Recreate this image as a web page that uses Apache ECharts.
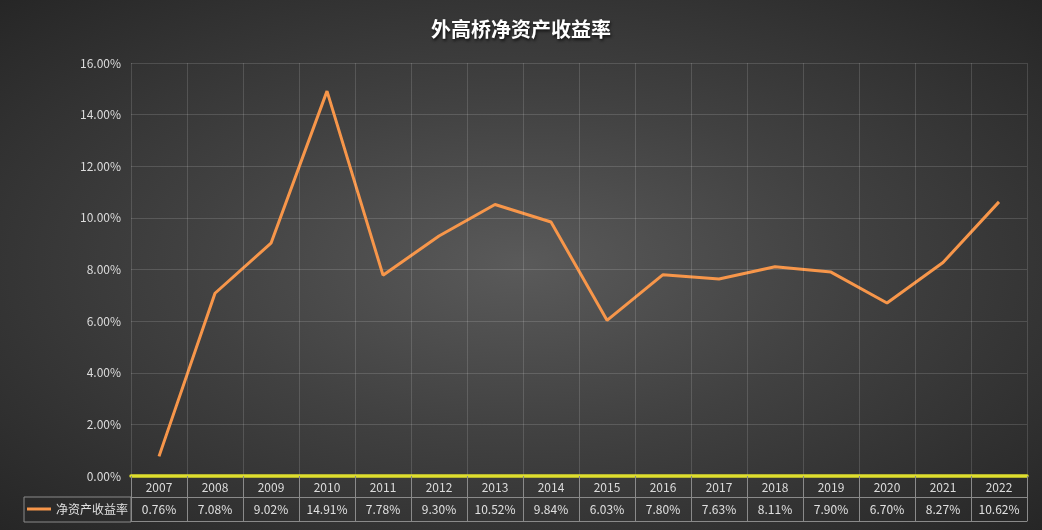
<!DOCTYPE html>
<html>
<head>
<meta charset="utf-8">
<script src="https://cdn.jsdelivr.net/npm/echarts@6/dist/echarts.min.js"></script>
<style>
  html, body { margin: 0; padding: 0; }
  #chart {
    width: 1042px; height: 530px;
    background: radial-gradient(ellipse at 50% 50%, #5a5a5a 0%, #414141 45%, #262626 100%);
  }
</style>
</head>
<body>
<div id="chart"></div>
<script>
// 年份
const years = ["2007", "2008", "2009", "2010", "2011", "2012", "2013", "2014",
  "2015", "2016", "2017", "2018", "2019", "2020", "2021", "2022"];
// 净资产收益率（%）
const roe = [0.76, 7.08, 9.02, 14.91, 7.78, 9.30, 10.52, 9.84,
  6.03, 7.80, 7.63, 8.11, 7.90, 6.70, 8.27, 10.62];
const seriesName = "净资产收益率";

const font = "'Noto Sans CJK SC', 'Noto Sans', sans-serif";
const tableLine = "#8a8a8a";

const chart = echarts.init(document.getElementById("chart"));

chart.setOption({
  backgroundColor: "transparent",
  textStyle: { fontFamily: font },
  title: {
    text: "外高桥净资产收益率",
    left: "center",
    top: 14,
    textStyle: {
      color: "#ffffff",
      fontSize: 20,
      fontWeight: "bold",
      fontFamily: font,
      textShadowColor: "rgba(0,0,0,0.7)",
      textShadowBlur: 3,
      textShadowOffsetX: 1,
      textShadowOffsetY: 2,
    },
  },
  // 图例放在数据表左侧格子里
  legend: {
    data: [seriesName],
    left: 24,
    top: 497,
    padding: [6, 3, 7, 3],
    borderColor: tableLine,
    borderWidth: 1,
    icon: "rect",
    itemWidth: 24,
    itemHeight: 3,
    textStyle: { color: "#e0e0e0", fontSize: 12, fontFamily: font },
    selectedMode: false,
  },
  grid: { left: 131, right: 15, top: 63, bottom: 54 },
  xAxis: [
    {
      type: "category",
      data: years,
      boundaryGap: true,
      axisLine: { show: true, lineStyle: { color: "#dede2e", width: 3.5 } },
      axisTick: { show: true, interval: 0, length: 45, lineStyle: { color: tableLine } },
      axisLabel: { interval: 0, color: "#dcdcdc", fontSize: 12, margin: 5 },
      splitLine: { show: true, interval: 0, lineStyle: { color: "rgba(255,255,255,0.14)" } },
      z: 5,
    },
    {
      // 数据表第二行：数值
      type: "category",
      data: years,
      position: "bottom",
      offset: 21,
      axisLine: { show: true, lineStyle: { color: tableLine, width: 1 } },
      axisTick: { show: false },
      axisLabel: {
        interval: 0,
        color: "#e0e0e0",
        fontSize: 12,
        margin: 6,
        formatter: (v, i) => roe[i].toFixed(2) + "%",
      },
      splitLine: { show: false },
    },
    {
      // 数据表底边
      type: "category",
      data: years,
      position: "bottom",
      offset: 45,
      axisLine: { show: true, lineStyle: { color: tableLine, width: 1 } },
      axisTick: { show: false },
      axisLabel: { show: false },
      splitLine: { show: false },
    },
  ],
  yAxis: {
    type: "value",
    min: 0,
    max: 16,
    interval: 2,
    axisLine: { show: false },
    axisTick: { show: false },
    axisLabel: {
      color: "#dcdcdc",
      fontSize: 12,
      margin: 10,
      formatter: (v) => v.toFixed(2) + "%",
    },
    splitLine: { lineStyle: { color: "rgba(255,255,255,0.14)" } },
  },
  series: [
    {
      name: seriesName,
      type: "line",
      xAxisIndex: 0,
      data: roe,
      symbol: "none",
      lineStyle: { color: "#f7964a", width: 3 },
      itemStyle: { color: "#f7964a" },
      z: 3,
    },
  ],
});
</script>
</body>
</html>
